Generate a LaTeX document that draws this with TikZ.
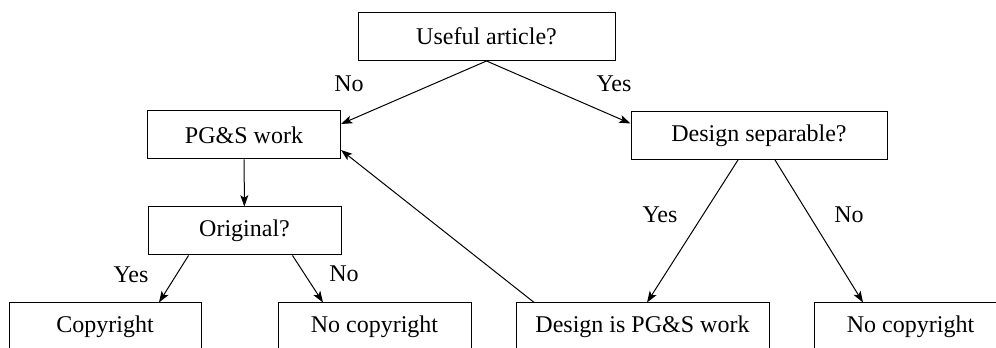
\documentclass[tikz,border=0pt]{standalone}
\usepackage{fontspec}
\setmainfont{Liberation Serif}
\usetikzlibrary{arrows.meta}

\tikzset{
  qbox/.style={draw, line width=0.75pt, minimum height=36pt, inner sep=0pt},
  lbl/.style={inner sep=0pt}
}

\begin{document}
\begin{tikzpicture}[x=0.75pt, y=-0.75pt, >={Stealth[length=8.5pt,width=6pt,inset=2pt]},
    every node/.style={font=\fontsize{18}{21}\selectfont}]
             \useasboundingbox (0,0) rectangle (996,348);
             \clip (0,0) rectangle (996,348);

             \node[qbox, minimum width=192.75pt] (useful) at (486.5,36.5) {Useful article?};
             \node[qbox, minimum width=144.75pt] (pgs) at (244,135) {PG\&S work};
             \node[qbox, minimum width=192pt] (separable) at (759,135.5) {Design separable?};
             \node[qbox, minimum width=144.75pt] (original) at (244.5,231) {Original?};
             \node[qbox, minimum width=144pt] (copyright) at (105,327) {Copyright};
             \node[qbox, minimum width=144.75pt] (nocopy1) at (374.5,327) {No copyright};
             \node[qbox, minimum width=189.75pt] (designpgs) at (642.5,327) {Design is PG\&S work};
             \node[qbox, minimum width=144.75pt] (nocopy2) at (910.5,327) {No copyright};

             \node[lbl] (no1) at (349,84) {No};
             \node[lbl] (yes1) at (614,84) {Yes};
             \node[lbl] (yes2) at (131,275) {Yes};
             \node[lbl] (no2) at (344,274) {No};
             \node[lbl] (yes3) at (660,215) {Yes};
             \node[lbl] (no3) at (849,215) {No};

             \draw [->, line width=0.75pt] (useful.south) to ([yshift=8.25pt]pgs.east);
             \draw [->, line width=0.75pt] (useful.south) to ([yshift=9pt]separable.west);
             \draw [->, line width=0.75pt] (pgs) to (original);
             \draw [->, line width=0.75pt] ([xshift=-42pt]original.south) to ([xshift=40.5pt]copyright.north);
             \draw [->, line width=0.75pt] ([xshift=36pt]original.south) to ([xshift=-38.6pt]nocopy1.north);
             \draw [->, line width=0.75pt] ([xshift=-15.75pt]separable.south) to ([xshift=3.4pt]designpgs.north);
             \draw [->, line width=0.75pt] ([xshift=12pt]separable.south) to ([xshift=-35.6pt]nocopy2.north);
             \draw [->, line width=0.75pt] ([xshift=14pt]designpgs.north west) to ([yshift=-11.25pt]pgs.east);

\end{tikzpicture}
\end{document}
